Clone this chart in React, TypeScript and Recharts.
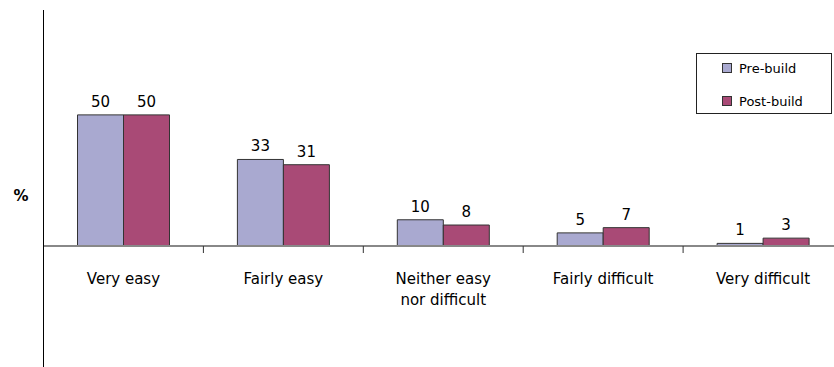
import React from "react";
import {
  BarChart,
  Bar,
  XAxis,
  YAxis,
  Legend,
  LabelList,
} from "recharts";

const categories = [
  "Very easy",
  "Fairly easy",
  "Neither easy\nnor difficult",
  "Fairly difficult",
  "Very difficult",
];
const preBuild = [50, 33, 10, 5, 1];
const postBuild = [50, 31, 8, 7, 3];
const seriesNames = ["Pre-build", "Post-build"];

const data = categories.map((name, i) => ({
  name,
  pre: preBuild[i],
  post: postBuild[i],
}));

const FONT = "'DejaVu Sans', sans-serif";
const PRE_COLOR = "#a9a9d0";
const POST_COLOR = "#a94a76";

// label under each category, plus a mark on the left edge of its band;
// the first band's edge carries the value axis on down below the baseline
function CategoryTick({ x, y, payload, index }: any) {
  const lines = String(payload.value).split("\n");
  const half = payload.offset || 80;
  return (
    <g>
      {index > 0 ? (
        <line
          x1={x - half}
          x2={x - half}
          y1={y}
          y2={y + 7}
          stroke="#333"
          strokeWidth={1}
        />
      ) : (
        <line
          x1={x - half}
          x2={x - half}
          y1={y - 1}
          y2={y + 140}
          stroke="#000"
          strokeWidth={1}
        />
      )}
      <text
        x={x}
        y={y}
        textAnchor="middle"
        fontFamily={FONT}
        fontSize={15}
        fill="#000"
      >
        {lines.map((line, i) => (
          <tspan key={i} x={x} dy={i === 0 ? 38 : 21}>
            {line}
          </tspan>
        ))}
      </text>
    </g>
  );
}

function LegendBox({ payload }: any) {
  // keep the series order rather than the legend's sorted order
  const items = seriesNames
    .map((n) => (payload || []).find((p: any) => p.value === n))
    .filter(Boolean);
  return (
    <div
      style={{
        boxSizing: "border-box",
        width: 136,
        height: 61,
        border: "1px solid #222",
        background: "#fff",
        fontFamily: FONT,
        fontSize: 13,
        position: "relative",
      }}
    >
      {items.map((entry: any, i: number) => (
        <div
          key={entry.value}
          style={{
            position: "absolute",
            left: 25,
            top: 5 + i * 33,
            height: 18,
            display: "flex",
            alignItems: "center",
            whiteSpace: "nowrap",
          }}
        >
          <span
            style={{
              display: "inline-block",
              width: 8,
              height: 8,
              background: entry.color,
              border: "1px solid #333",
              marginRight: 7,
            }}
          />
          {entry.value}
        </div>
      ))}
    </div>
  );
}

export default function App() {
  return (
    <div
      style={{
        position: "fixed",
        left: 0,
        top: 0,
        width: 834,
        height: 367,
        overflow: "hidden",
        background: "#fff",
      }}
    >
      <BarChart
        width={850}
        height={367}
        data={data}
        margin={{ top: 10, right: 7, bottom: 0, left: 42.5 }}
        barGap={0}
        barSize={46}
      >
        <YAxis
          width={1}
          domain={[0, 90]}
          tick={false}
          tickLine={false}
          axisLine={{ stroke: "#000" }}
          label={{
            value: "%",
            position: "left",
            offset: 14,
            dy: 68,
            fontFamily: FONT,
            fontSize: 15,
            fontWeight: "bold",
            fill: "#000",
          }}
        />
        <XAxis
          dataKey="name"
          height={121}
          axisLine={{ stroke: "#888", strokeWidth: 2 }}
          tickLine={false}
          tickSize={0}
          tickMargin={0}
          interval={0}
          tick={<CategoryTick />}
        />
        <Legend
          layout="horizontal"
          verticalAlign="middle"
          align="center"
          content={<LegendBox />}
          wrapperStyle={{ left: 696, top: 53, width: 136, height: 61 }}
        />
        <Bar
          dataKey="pre"
          name={seriesNames[0]}
          fill={PRE_COLOR}
          stroke="#333"
          strokeWidth={1}
          isAnimationActive={false}
        >
          <LabelList
            dataKey="pre"
            position="top"
            offset={8}
            fontFamily={FONT}
            fontSize={15}
            fill="#000"
          />
        </Bar>
        <Bar
          dataKey="post"
          name={seriesNames[1]}
          fill={POST_COLOR}
          stroke="#333"
          strokeWidth={1}
          isAnimationActive={false}
        >
          <LabelList
            dataKey="post"
            position="top"
            offset={8}
            fontFamily={FONT}
            fontSize={15}
            fill="#000"
          />
        </Bar>
      </BarChart>
    </div>
  );
}
